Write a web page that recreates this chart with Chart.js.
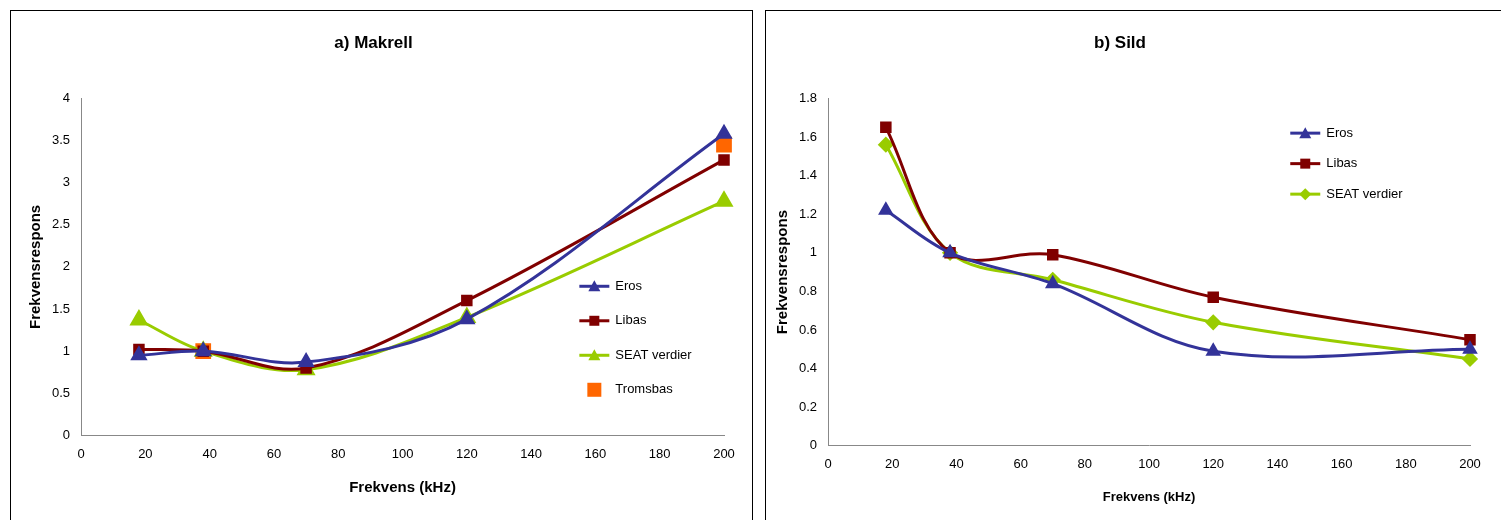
<!DOCTYPE html><html><head><script src="https://cdn.jsdelivr.net/npm/chart.js@4"></script>
<style>body{margin:0;background:#fff;font-family:"Liberation Sans",Arial,sans-serif}
.box{position:absolute;border:1px solid #000;background:#fff}
canvas{position:absolute;left:0;top:0}</style></head><body>
<div class="box" style="left:10px;top:10px;width:741px;height:520px"><canvas id="c1"></canvas></div>
<div class="box" style="left:765px;top:10px;width:735px;height:520px"><canvas id="c2"></canvas></div>
<script>
const freqs=[18,38,70,120,200];
const makErosV=[0.95,1.0,0.87,1.38,3.58];
const makLibasV=[1.02,1.0,0.80,1.60,3.27];
const makSeatV=[1.37,1.0,0.78,1.40,2.78];
const tromsFreq=[38,200];
const tromsV=[1.0,3.45];
const silErosV=[1.22,1.0,0.84,0.49,0.50];
const silLibasV=[1.65,1.0,0.99,0.77,0.55];
const silSeatV=[1.56,1.0,0.86,0.64,0.45];
const names=['Eros','Libas','SEAT verdier','Tromsbas'];
const cols=['#333399','#800000','#99cc00','#ff6600'];
const pts=(xs,ys)=>xs.map((x,i)=>({x,y:ys[i]}));
function ds(i,data,style,r){return{label:names[i],data,borderColor:cols[i],backgroundColor:cols[i],pointStyle:style,pointRadius:r,borderWidth:3,showLine:i<3,tension:0.35,clip:false};}
const legendPlug={id:'lg',afterDraw(c){const o=c.options.plugins.lg;const x=c.scales.x.getPixelForValue(o.x);let y=c.scales.y.getPixelForValue(o.y);const ctx=c.ctx;ctx.font='13px "Liberation Sans"';ctx.textBaseline='middle';
c.data.datasets.forEach(d=>{ctx.strokeStyle=d.borderColor;ctx.fillStyle=d.borderColor;ctx.lineWidth=3;if(d.showLine){ctx.beginPath();ctx.moveTo(x,y);ctx.lineTo(x+30,y);ctx.stroke();}
const r=d.pointStyle==='rectRot'?6:7;ctx.beginPath();if(d.pointStyle==='triangle'){ctx.moveTo(x+15,y-6);ctx.lineTo(x+21,y+5);ctx.lineTo(x+9,y+5);}else if(d.pointStyle==='rectRot'){ctx.moveTo(x+15,y-r);ctx.lineTo(x+15+r,y);ctx.lineTo(x+15,y+r);ctx.lineTo(x+15-r,y);}else{const s=d.label==='Tromsbas'?7:5;ctx.rect(x+15-s,y-s,2*s,2*s);}ctx.fill();
ctx.fillStyle='#000';ctx.fillText(d.label,x+36,y);y+=o.step;});}};
function mk(id,w,title,datasets,ymax,ystep,pad,lg,xtitleSize){
const el=document.getElementById(id);el.width=w;el.height=520;
return new Chart(el,{type:'scatter',data:{datasets},plugins:[legendPlug],options:{responsive:false,animation:false,layout:{padding:pad},
plugins:{legend:{display:false},tooltip:{enabled:false},title:{display:true,text:title,font:{size:17,weight:'bold',family:'Liberation Sans'},color:'#000',padding:{top:12,bottom:45}},lg},
scales:{x:{type:'linear',min:0,max:200,ticks:{stepSize:20,color:'#000',font:{size:13}},grid:{display:false,drawTicks:true},border:{color:'#888'},title:{display:true,text:'Frekvens (kHz)',color:'#000',font:{size:xtitleSize,weight:'bold'},padding:{top:14}}},
y:{min:0,max:ymax,ticks:{stepSize:ystep,color:'#000',font:{size:13},callback:v=>String(+v.toFixed(2))},grid:{display:false},border:{color:'#888'},title:{display:true,text:'Frekvensrespons',color:'#000',font:{size:15,weight:'bold'}}}}}});}
mk('c1',741,'a) Makrell',[ds(0,pts(freqs,makErosV),'triangle',7),ds(1,pts(freqs,makLibasV),'rect',6),ds(2,pts(freqs,makSeatV),'triangle',8),ds(3,pts(tromsFreq,tromsV),'rect',9)],4,0.5,{left:12,right:28,top:10,bottom:30},{x:155,y:1.77,step:34.5},15);
mk('c2',735,'b) Sild',[ds(0,pts(freqs,silErosV),'triangle',6),ds(1,pts(freqs,silLibasV),'rect',6),ds(2,pts(freqs,silSeatV),'rectRot',6)],1.8,0.2,{left:4,right:31,top:10,bottom:22},{x:144,y:1.62,step:30.5},13);
</script></body></html>
